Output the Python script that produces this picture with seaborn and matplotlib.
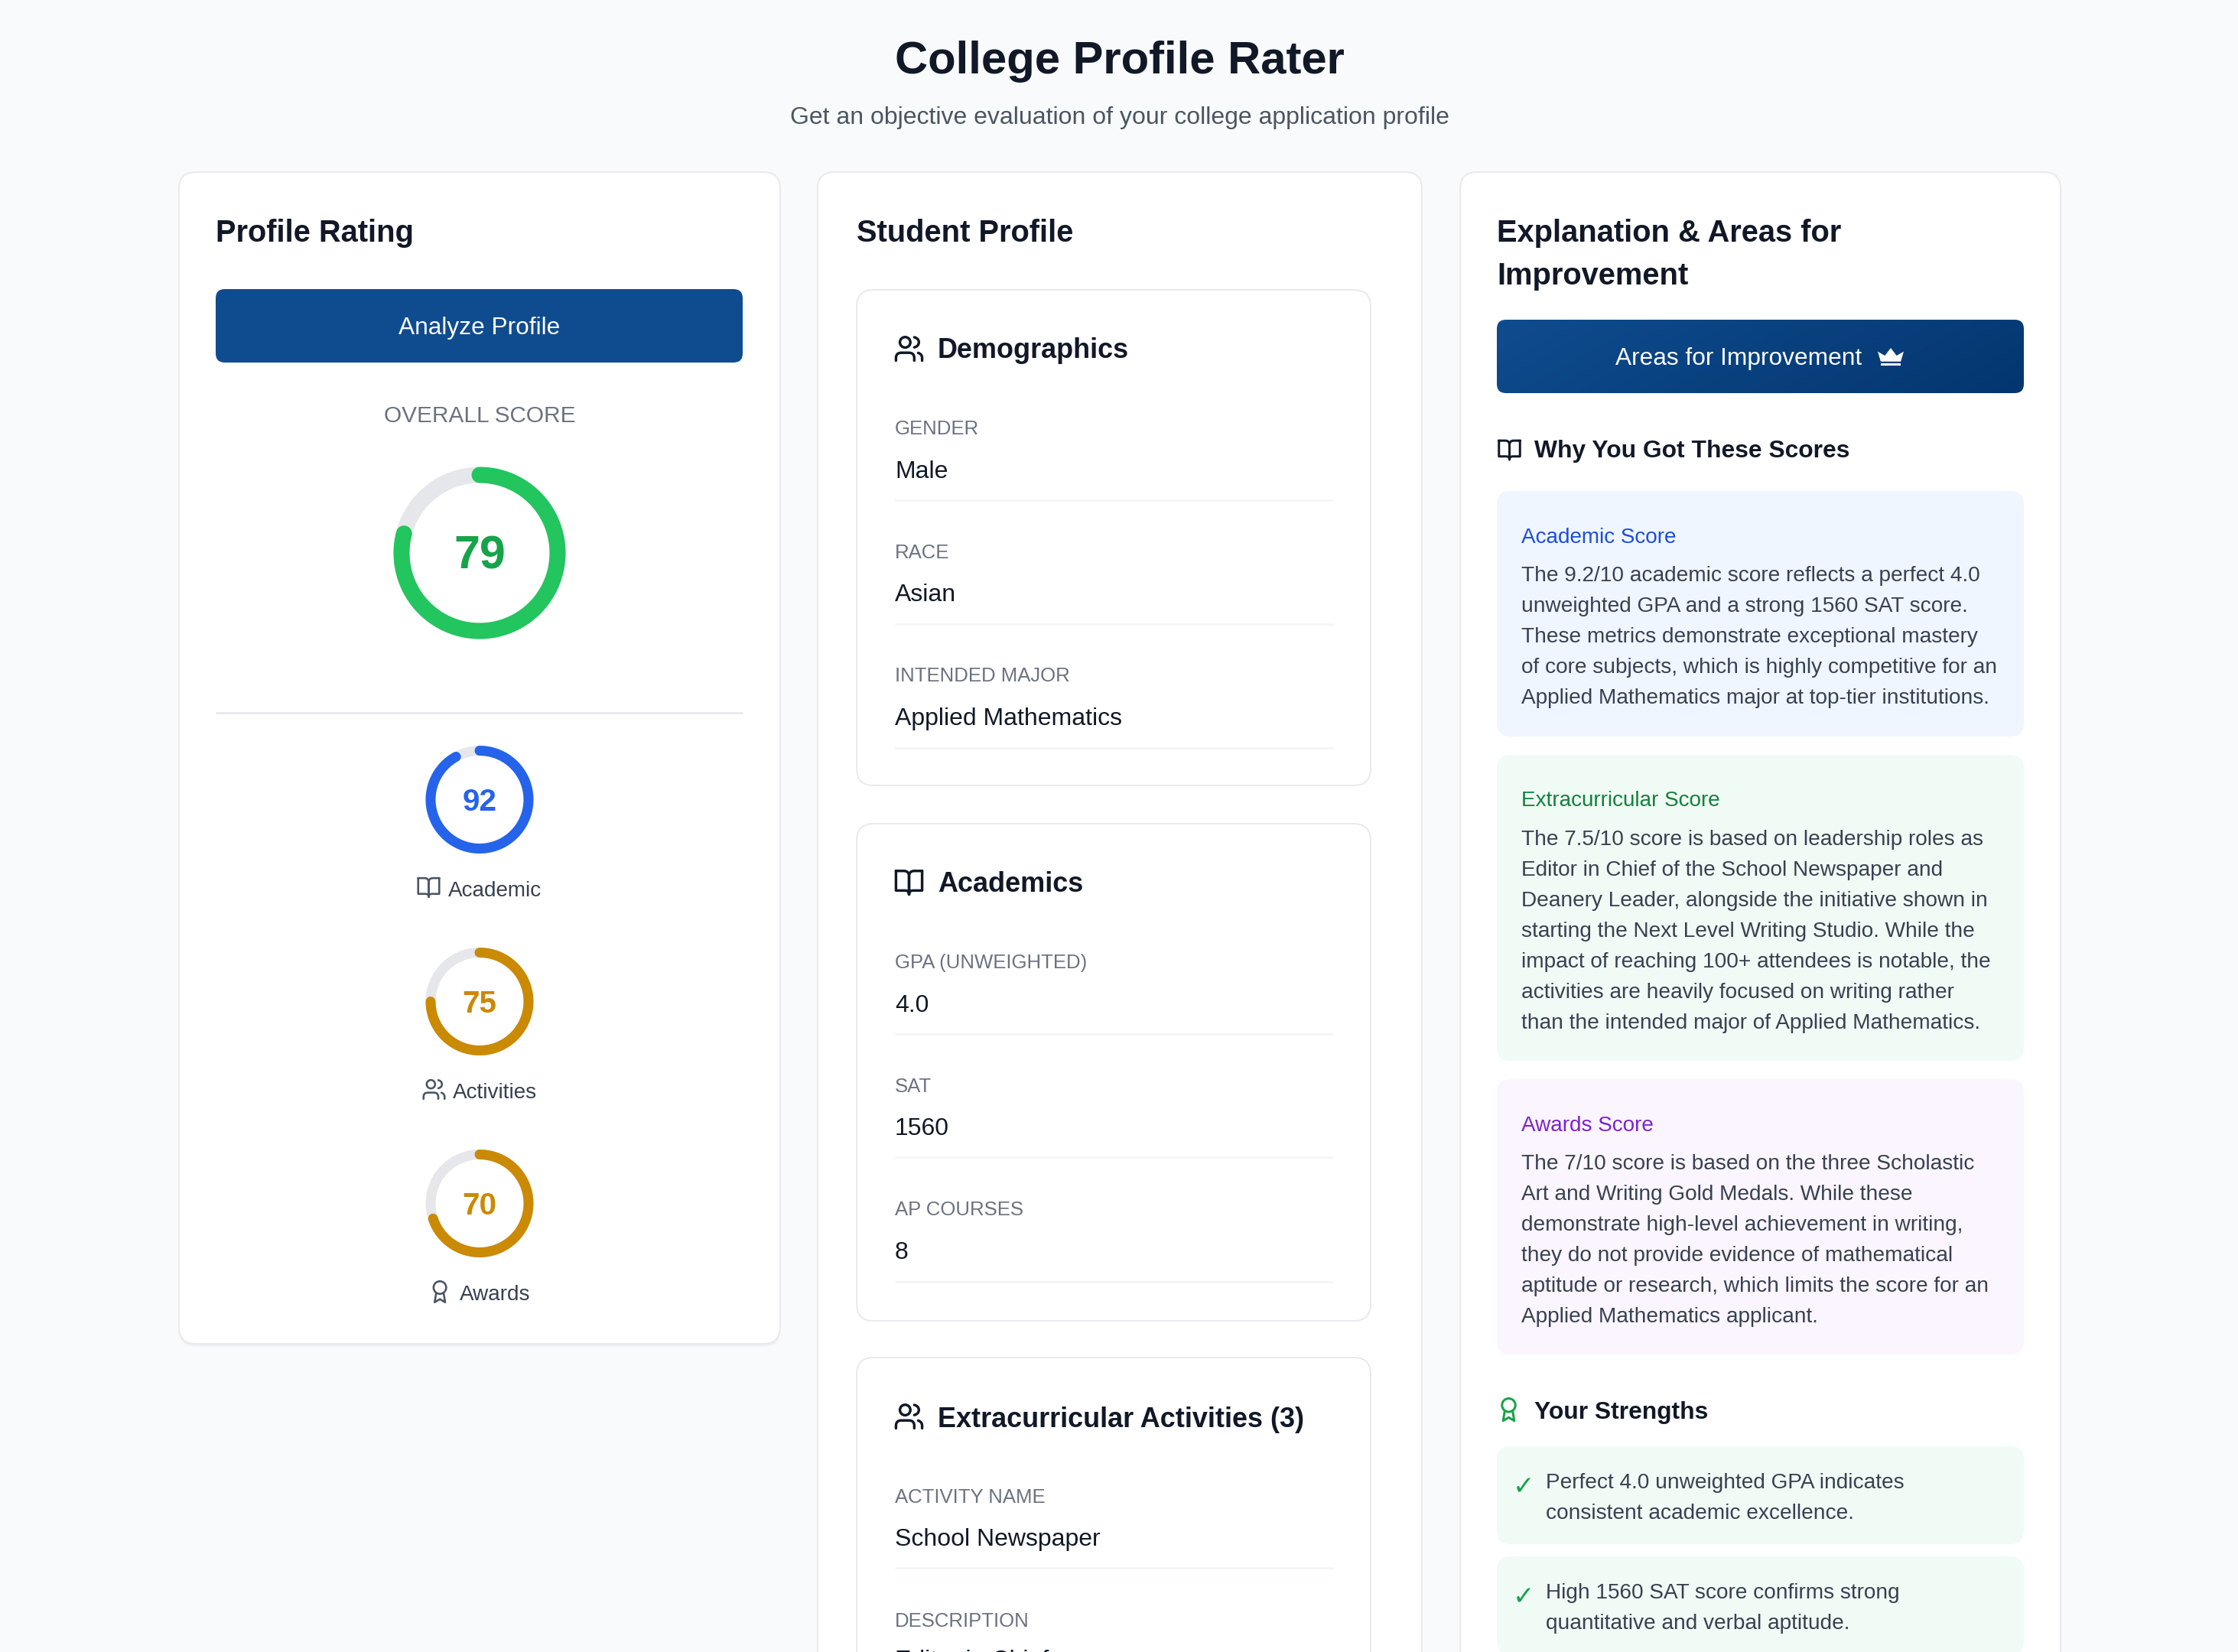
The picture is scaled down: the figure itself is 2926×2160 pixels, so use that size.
import numpy as np
import pandas as pd
import seaborn as sns
import matplotlib.pyplot as plt
from matplotlib.patches import FancyBboxPatch, PathPatch
from matplotlib.path import Path
from matplotlib.transforms import Affine2D

W, H = 2926, 2160
DPI = 100

# chart values
overall_score = 79
sub_labels = ['Academic', 'Activities', 'Awards']
sub_scores = [92, 75, 70]
sub_colors = ['#2563eb', '#ca8a04', '#ca8a04']

demo_fields = ['GENDER', 'RACE', 'INTENDED MAJOR']
demo_values = ['Male', 'Asian', 'Applied Mathematics']
acad_fields = ['GPA (UNWEIGHTED)', 'SAT', 'AP COURSES']
acad_values = ['4.0', '1560', '8']
extra_fields = ['ACTIVITY NAME', 'DESCRIPTION']
extra_values = ['School Newspaper', 'Editor in Chief']

academic_lines = ['The 9.2/10 academic score reflects a perfect 4.0',
                  'unweighted GPA and a strong 1560 SAT score.',
                  'These metrics demonstrate exceptional mastery',
                  'of core subjects, which is highly competitive for an',
                  'Applied Mathematics major at top-tier institutions.']
extra_lines = ['The 7.5/10 score is based on leadership roles as',
               'Editor in Chief of the School Newspaper and',
               'Deanery Leader, alongside the initiative shown in',
               'starting the Next Level Writing Studio. While the',
               'impact of reaching 100+ attendees is notable, the',
               'activities are heavily focused on writing rather',
               'than the intended major of Applied Mathematics.']
awards_lines = ['The 7/10 score is based on the three Scholastic',
                'Art and Writing Gold Medals. While these',
                'demonstrate high-level achievement in writing,',
                'they do not provide evidence of mathematical',
                'aptitude or research, which limits the score for an',
                'Applied Mathematics applicant.']
strength_lines = [['Perfect 4.0 unweighted GPA indicates', 'consistent academic excellence.'],
                  ['High 1560 SAT score confirms strong', 'quantitative and verbal aptitude.']]

INK = '#111827'
BODY = '#374151'
MUTED = '#6b7280'

# lucide style icons, in a 24 unit box
M, L, Q = Path.MOVETO, Path.LINETO, Path.CURVE3


def poly(*parts):
    verts, codes = [], []
    for code, pts in parts:
        for p in pts:
            verts.append(p)
            codes.append(code)
    return Path(verts, codes)


users_icon = [
    poly((M, [(16, 21)]), (L, [(16, 19)]), (Q, [(16, 15), (12, 15)]), (L, [(6, 15)]), (Q, [(2, 15), (2, 19)]), (L, [(2, 21)])),
    Path.circle((9, 7), 4),
    poly((M, [(22, 21)]), (L, [(22, 19)]), (Q, [(22, 16), (19, 15.13)])),
    poly((M, [(16, 3.13)]), (Q, [(19.5, 4), (19.5, 7), (19.5, 10), (16, 10.88)])),
]
book_icon = [
    poly((M, [(2, 3)]), (L, [(8, 3)]), (Q, [(12, 3), (12, 7)]), (L, [(12, 21)]), (Q, [(12, 18), (9, 18)]), (L, [(2, 18), (2, 3)])),
    poly((M, [(22, 3)]), (L, [(16, 3)]), (Q, [(12, 3), (12, 7)]), (L, [(12, 21)]), (Q, [(12, 18), (15, 18)]), (L, [(22, 18), (22, 3)])),
]
award_icon = [
    Path.circle((12, 8), 6),
    poly((M, [(15.477, 12.89)]), (L, [(17, 22), (12, 19), (7, 22), (8.523, 12.89)])),
]
crown_icon = [
    poly((M, [(1, 8)]), (L, [(7, 11.5), (12, 5), (17, 11.5), (23, 8), (20.5, 16.5), (3.5, 16.5), (1, 8)])),
    poly((M, [(3.5, 18)]), (L, [(20.5, 18), (20.5, 20), (3.5, 20), (3.5, 18)])),
]

sns.set_theme(style='white')
plt.rcParams['font.family'] = ['Liberation Sans', 'DejaVu Sans']

fig = plt.figure(figsize=(W / DPI, H / DPI), dpi=DPI, facecolor='#f9fafb')
ax = fig.add_axes([0, 0, 1, 1])
ax.set_xlim(0, W)
ax.set_ylim(H, 0)
ax.axis('off')


def px(v):
    # device pixels to points
    return v * 72 / DPI


def text(x, y, s, size, color=INK, weight='normal', ha='left'):
    return ax.text(x, y, s, fontsize=px(size), color=color, fontweight=weight, ha=ha, va='baseline')


def box(x0, y0, x1, y1, radius, face, edge='none', lw=0, z=1):
    patch = FancyBboxPatch((x0, y0), x1 - x0, y1 - y0, boxstyle=f'round,pad=0,rounding_size={radius}',
                           facecolor=face, edgecolor=edge, linewidth=px(lw), zorder=z)
    ax.add_patch(patch)
    return patch


def card(x0, y0, x1, y1, radius=22):
    box(x0, y0 + 4, x1, y1 + 4, radius, '#f2f3f6', z=1)
    box(x0, y0 + 2, x1, y1 + 2, radius, '#eaecf0', z=1)
    box(x0, y0, x1, y1, radius, 'white', '#e8eaee', 2, z=1.5)


def icon(parts, x0, y0, size, color, lw=3.4, filled=False):
    tr = Affine2D().scale(size / 24).translate(x0, y0)
    for part in parts:
        ax.add_patch(PathPatch(part.transformed(tr), fill=filled, facecolor=color if filled else 'none',
                               edgecolor='none' if filled else color, linewidth=0 if filled else px(lw),
                               capstyle='round', joinstyle='round', zorder=3))


def donut(score, cx, cy, outer, stroke, color):
    # one polar axes per ring, the arc length comes from the score
    half = outer / 2 + 24
    ring = fig.add_axes([(cx - half) / W, 1 - (cy + half) / H, 2 * half / W, 2 * half / H], projection='polar')
    ring.patch.set_alpha(0)
    radius = outer / 2 - stroke / 2
    track = pd.DataFrame({'theta': np.linspace(0, 2 * np.pi, 361), 'r': radius})
    arc = pd.DataFrame({'theta': np.linspace(0, 2 * np.pi * score / 100, 361), 'r': radius})
    sns.lineplot(data=track, x='theta', y='r', ax=ring, color='#e5e7eb', linewidth=px(stroke),
                 estimator=None, sort=False, legend=False, solid_capstyle='butt')
    sns.lineplot(data=arc, x='theta', y='r', ax=ring, color=color, linewidth=px(stroke),
                 estimator=None, sort=False, legend=False, solid_capstyle='round')
    ring.set_theta_zero_location('N')
    ring.set_theta_direction(-1)
    ring.set_rlim(0, half)
    ring.axis('off')


def fields(names, values, label_ys, value_ys, rule_ys, x0=1170, x1=1743):
    for name, value, ly, vy, ry in zip(names, values, label_ys, value_ys, rule_ys):
        text(x0, ly, name, 25.7, MUTED)
        text(x0, vy, value, 32)
        if ry is not None:
            ax.plot([x0, x1], [ry, ry], color='#f3f4f6', lw=px(2.5), solid_capstyle='butt', zorder=2)


# page header
text(1464, 96, 'College Profile Rater', 59.8, weight='bold', ha='center')
text(1464, 162, 'Get an objective evaluation of your college application profile', 32, '#4b5563', ha='center')

# left column
card(234, 225, 1020, 1757)
text(282, 316, 'Profile Rating', 39.9, weight='bold')
box(282, 378, 971, 474, 12, '#0f4c8f', z=2)
text(627, 437, 'Analyze Profile', 31.7, 'white', ha='center').set_zorder(4)
text(627, 552, 'OVERALL SCORE', 29.8, MUTED, ha='center')
donut(overall_score, 627, 723, 225, 21, '#22c55e')
text(627, 744, str(overall_score), 61, '#16a34a', 'bold', ha='center')
ax.plot([282, 971], [932, 932], color='#e5e7eb', lw=px(2.5), solid_capstyle='butt', zorder=2)

sub_centres = [1045.5, 1309.5, 1573.5]
sub_baselines = [1059.5, 1323.5, 1587.5]
label_baselines = [1172, 1436.5, 1700]
label_lefts = [586, 592, 601]
sub_icons = [(book_icon, 544, 1144), (users_icon, 551, 1408), (award_icon, 558.6, 1672.5)]
for label, score, colour, cy, vy, ly, lx, (ic, ix, iy) in zip(sub_labels, sub_scores, sub_colors, sub_centres,
                                                              sub_baselines, label_baselines, label_lefts, sub_icons):
    donut(score, 627, cy, 141, 13, colour)
    text(627, vy, str(score), 40.5, colour, 'bold', ha='center')
    text(lx, ly, label, 27.9, BODY)
    icon(ic, ix, iy, 33, '#4b5563', lw=2.6)

# middle column
card(1069, 225, 1859, 2240)
text(1120, 316, 'Student Profile', 39.9, weight='bold')

card(1120, 379, 1792, 1027)
icon(users_icon, 1168, 435.6, 41, INK)
text(1226, 468.5, 'Demographics', 36, weight='bold')
fields(demo_fields, demo_values, [568, 729.5, 891], [625, 786, 948], [654, 815.5, 978])

card(1120, 1077, 1792, 1727)
icon(book_icon, 1168, 1133.6, 41, INK)
text(1226, 1166.5, 'Academics', 36, weight='bold')
fields(acad_fields, acad_values, [1266, 1428, 1589], [1323, 1484.5, 1646.5], [1352, 1513, 1676])

card(1120, 1775, 1792, 2300)
icon(users_icon, 1168, 1831.6, 41, INK)
text(1226, 1865.5, 'Extracurricular Activities (3)', 36, weight='bold')
fields(extra_fields, extra_values, [1965, 2127], [2021, 2180], [2050, None])

# right column
card(1909, 225, 2694, 2300)
text(1957, 316, 'Explanation & Areas for', 39.9, weight='bold')
text(1957, 372, 'Improvement', 39.9, weight='bold')

clip = box(1957, 418, 2646, 514, 12, 'none', z=2)
xx, yy = np.meshgrid(np.linspace(0, 1, 300), np.linspace(0, 1, 60))
button_cmap = sns.blend_palette(['#0f4c8f', '#03366f'], as_cmap=True)
shade = ax.imshow(0.8 * xx + 0.2 * yy, extent=(1957, 2646, 514, 418), cmap=button_cmap, aspect='auto', zorder=2)
shade.set_clip_path(clip)
ax.set_xlim(0, W)
ax.set_ylim(H, 0)
text(2112, 477, 'Areas for Improvement', 31.7, 'white').set_zorder(4)
icon(crown_icon, 2453.5, 447.3, 37, 'white', filled=True)

icon(book_icon, 1957, 572, 33, INK, lw=3)
text(2006, 598, 'Why You Got These Scores', 31.8, weight='bold')

score_boxes = [
    ('Academic Score', academic_lines, 642, 963, 710, 760, '#eff6ff', '#1d4ed8'),
    ('Extracurricular Score', extra_lines, 987, 1387, 1054, 1105, '#f0fbf5', '#15803d'),
    ('Awards Score', awards_lines, 1411, 1771, 1479, 1529, '#faf5ff', '#7e22ce'),
]
for title, lines, y0, y1, title_y, first_y, face, colour in score_boxes:
    box(1957, y0, 2646, y1, 18, face, z=2)
    text(1989, title_y, title, 27.9, colour).set_zorder(4)
    for i, line in enumerate(lines):
        text(1989, first_y + i * 40, line, 28, BODY).set_zorder(4)

icon(award_icon, 1955, 1825.6, 35, '#16a34a', lw=3)
text(2006, 1854.5, 'Your Strengths', 31.8, weight='bold')

for lines, y0 in zip(strength_lines, [1891, 2035]):
    box(1957, y0, 2646, y0 + 128, 18, '#f0fbf5', z=2)
    text(1978, y0 + 63, '\u2713', 34, '#16a34a').set_zorder(4)
    for i, line in enumerate(lines):
        text(2021, y0 + 55.5 + i * 40, line, 28, BODY).set_zorder(4)

fig.savefig('out.png', dpi=DPI, facecolor=fig.get_facecolor())
